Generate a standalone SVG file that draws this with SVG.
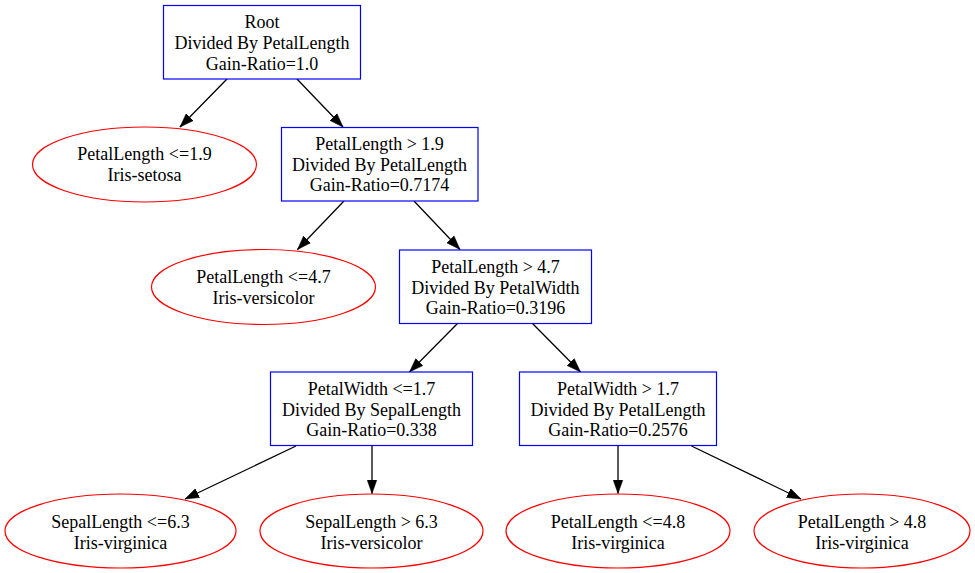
<svg xmlns="http://www.w3.org/2000/svg" width="975" height="573" viewBox="0 0 975 573">
<style>
.box{fill:#ffffff;stroke:#0000ff;stroke-width:1.2}
.leaf{fill:#ffffff;stroke:#ff0000;stroke-width:1.2}
text{font-family:"Liberation Serif","Times New Roman",serif;font-size:18px;text-anchor:middle;fill:#000}
.edge{stroke:#000;stroke-width:1.3;fill:none}
</style>
<defs>
<marker id="arr" markerUnits="userSpaceOnUse" markerWidth="15" markerHeight="11" refX="14" refY="5" orient="auto" viewBox="0 0 15 10">
<path d="M0,0 L14,5 L0,10 z" fill="#000" stroke="#000" stroke-width="0.5"/>
</marker>
</defs>
<rect width="975" height="573" fill="#ffffff"/>
<g id="connectors">
<line class="edge" x1="227" y1="79" x2="180" y2="127" marker-end="url(#arr)"/>
<line class="edge" x1="297" y1="79" x2="343" y2="127" marker-end="url(#arr)"/>
<line class="edge" x1="344" y1="201" x2="297.5" y2="249.5" marker-end="url(#arr)"/>
<line class="edge" x1="414" y1="201" x2="460" y2="249.5" marker-end="url(#arr)"/>
<line class="edge" x1="457.5" y1="323.5" x2="409.5" y2="372" marker-end="url(#arr)"/>
<line class="edge" x1="532.5" y1="323.5" x2="580.5" y2="372" marker-end="url(#arr)"/>
<line class="edge" x1="296" y1="446" x2="185" y2="499" marker-end="url(#arr)"/>
<line class="edge" x1="372" y1="446" x2="372" y2="493.5" marker-end="url(#arr)"/>
<line class="edge" x1="618" y1="446" x2="618" y2="493.5" marker-end="url(#arr)"/>
<line class="edge" x1="691.5" y1="446" x2="801" y2="499" marker-end="url(#arr)"/>
</g>
<g id="root">
<rect class="box" x="163.5" y="5.5" width="197" height="73.5"/>
<text x="262" y="28">Root</text>
<text x="262" y="49">Divided By PetalLength</text>
<text x="262" y="69.5">Gain-Ratio=1.0</text>
</g>
<g id="leaf1">
<ellipse class="leaf" cx="144.5" cy="164.5" rx="112" ry="37.5"/>
<text x="144.5" y="160">PetalLength &lt;=1.9</text>
<text x="144.5" y="181">Iris-setosa</text>
</g>
<g id="node2">
<rect class="box" x="281.5" y="127.5" width="196.5" height="73.5"/>
<text x="379.5" y="150">PetalLength &gt; 1.9</text>
<text x="379.5" y="171">Divided By PetalLength</text>
<text x="379.5" y="191">Gain-Ratio=0.7174</text>
</g>
<g id="leaf2">
<ellipse class="leaf" cx="263.5" cy="287" rx="112" ry="37.5"/>
<text x="263.5" y="282.5">PetalLength &lt;=4.7</text>
<text x="263.5" y="303.5">Iris-versicolor</text>
</g>
<g id="node3">
<rect class="box" x="399.5" y="250" width="192" height="73.5"/>
<text x="495.5" y="273">PetalLength &gt; 4.7</text>
<text x="495.5" y="294">Divided By PetalWidth</text>
<text x="495.5" y="314">Gain-Ratio=0.3196</text>
</g>
<g id="node4">
<rect class="box" x="270.5" y="372" width="202" height="73.5"/>
<text x="371.5" y="395">PetalWidth &lt;=1.7</text>
<text x="371.5" y="415.5">Divided By SepalLength</text>
<text x="371.5" y="436">Gain-Ratio=0.338</text>
</g>
<g id="node5">
<rect class="box" x="519.5" y="372" width="197" height="73.5"/>
<text x="618" y="395">PetalWidth &gt; 1.7</text>
<text x="618" y="415.5">Divided By PetalLength</text>
<text x="618" y="436">Gain-Ratio=0.2576</text>
</g>
<g id="leaf3">
<ellipse class="leaf" cx="120.5" cy="531" rx="115.5" ry="37"/>
<text x="120.5" y="527.5">SepalLength &lt;=6.3</text>
<text x="120.5" y="548.5">Iris-virginica</text>
</g>
<g id="leaf4">
<ellipse class="leaf" cx="371.5" cy="531" rx="111.5" ry="37"/>
<text x="371.5" y="527.5">SepalLength &gt; 6.3</text>
<text x="371.5" y="548.5">Iris-versicolor</text>
</g>
<g id="leaf5">
<ellipse class="leaf" cx="618" cy="531" rx="112" ry="37"/>
<text x="618" y="527.5">PetalLength &lt;=4.8</text>
<text x="618" y="548.5">Iris-virginica</text>
</g>
<g id="leaf6">
<ellipse class="leaf" cx="862" cy="531" rx="108" ry="37"/>
<text x="862" y="527.5">PetalLength &gt; 4.8</text>
<text x="862" y="548.5">Iris-virginica</text>
</g>
</svg>
